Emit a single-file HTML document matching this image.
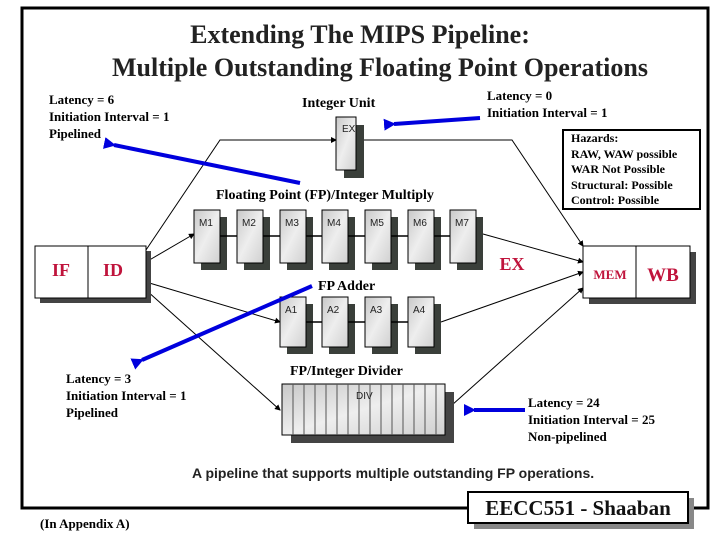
<!DOCTYPE html>
<html><head><style>
body{margin:0;background:#fff;}
svg{display:block;}
.t{font-family:"Liberation Serif",serif;font-weight:bold;}
.s{font-family:"Liberation Sans",sans-serif;}
</style></head><body>
<svg width="720" height="540" viewBox="0 0 720 540" xmlns="http://www.w3.org/2000/svg">
<defs>
<linearGradient id="g" x1="0" y1="0" x2="1" y2="1">
<stop offset="0" stop-color="#c8c8c8"/><stop offset="0.5" stop-color="#eeeeee"/><stop offset="1" stop-color="#d0d0d0"/></linearGradient>
<marker id="a" markerWidth="6" markerHeight="6" refX="5" refY="3" orient="auto"><path d="M0,0L6,3L0,6z" fill="#000"/></marker>
<marker id="b" markerWidth="3" markerHeight="3" refX="0.5" refY="1.5" orient="auto"><path d="M3,0L0,1.5L3,3z" fill="#0000dd"/></marker>
</defs>
<path d="M468,508 H708 V8 H22 V508 H468" fill="none" stroke="#000" stroke-width="3"/>
<text x="360" y="43" text-anchor="middle" class="t" font-size="26" fill="#222">Extending The MIPS Pipeline:</text>
<text x="380" y="76" text-anchor="middle" class="t" font-size="26" fill="#222">Multiple Outstanding Floating Point Operations</text>

<g class="t" font-size="13" fill="#000">
<text x="49" y="104">Latency = 6</text>
<text x="49" y="121">Initiation Interval = 1</text>
<text x="49" y="138">Pipelined</text>
<text x="302" y="107" font-size="14">Integer Unit</text>
<text x="487" y="100">Latency = 0</text>
<text x="487" y="117">Initiation Interval = 1</text>
<text x="216" y="199" font-size="14">Floating Point (FP)/Integer Multiply</text>
<text x="318" y="290" font-size="14">FP Adder</text>
<text x="290" y="375" font-size="14">FP/Integer Divider</text>
<text x="66" y="383">Latency = 3</text>
<text x="66" y="400">Initiation Interval = 1</text>
<text x="66" y="417">Pipelined</text>
<text x="528" y="407">Latency = 24</text>
<text x="528" y="424">Initiation Interval = 25</text>
<text x="528" y="441">Non-pipelined</text>
<text x="40" y="528">(In  Appendix A)</text>
</g>
<text x="192" y="478" class="s" font-weight="bold" font-size="14" fill="#222">A pipeline that supports multiple outstanding FP operations.</text>

<rect x="563" y="130" width="137" height="79" fill="#fff" stroke="#000" stroke-width="2"/>
<g class="t" font-size="12"><text x="571" y="142">Hazards:</text><text x="571" y="158">RAW, WAW possible</text><text x="571" y="173">WAR  Not Possible</text><text x="571" y="189">Structural:  Possible</text><text x="571" y="204">Control:  Possible</text></g>

<g stroke="#000" stroke-width="1" fill="none">
<polyline points="146,250 220,140 336,140" marker-end="url(#a)"/>
<polyline points="356,140 512,140 583,246" marker-end="url(#a)"/>
<line x1="146" y1="262" x2="194" y2="234" marker-end="url(#a)"/>
<line x1="146" y1="282" x2="280" y2="322" marker-end="url(#a)"/>
<line x1="146" y1="290" x2="280" y2="410" marker-end="url(#a)"/>
<line x1="483" y1="234" x2="583" y2="262" marker-end="url(#a)"/>
<line x1="441" y1="322" x2="583" y2="272" marker-end="url(#a)"/>
<line x1="452" y1="405" x2="583" y2="288" marker-end="url(#a)"/>
</g>

<rect x="40" y="251" width="111" height="52" fill="#444"/>
<rect x="35" y="246" width="111" height="52" fill="#fff" stroke="#000"/>
<line x1="88" y1="246" x2="88" y2="298" stroke="#000"/>
<text x="61" y="276" class="t" font-size="18" fill="#c0143c" text-anchor="middle">IF</text>
<text x="113" y="276" class="t" font-size="18" fill="#c0143c" text-anchor="middle">ID</text>
<rect x="589" y="252" width="107" height="52" fill="#444"/>
<rect x="583" y="246" width="107" height="52" fill="#fff" stroke="#000"/>
<line x1="636" y1="246" x2="636" y2="298" stroke="#000"/>
<text x="610" y="279" class="t" font-size="13" fill="#c0143c" text-anchor="middle">MEM</text>
<text x="663" y="281" class="t" font-size="19" fill="#c0143c" text-anchor="middle">WB</text>
<text x="512" y="270" class="t" font-size="18" fill="#c0143c" text-anchor="middle">EX</text>

<g font-family="Liberation Sans,sans-serif" font-size="10" fill="#222">
<rect x="344" y="125" width="20" height="53" fill="#3a3f3a"/><rect x="336" y="117" width="20" height="53" fill="url(#g)" stroke="#000"/><text x="342" y="132">EX</text>
<g transform="translate(194,210)"><rect x="7" y="7" width="26" height="53" fill="#3a3f3a"/><rect width="26" height="53" fill="url(#g)" stroke="#000"/><text x="5" y="16">M1</text></g>
<g transform="translate(237,210)"><rect x="7" y="7" width="26" height="53" fill="#3a3f3a"/><rect width="26" height="53" fill="url(#g)" stroke="#000"/><text x="5" y="16">M2</text></g>
<g transform="translate(280,210)"><rect x="7" y="7" width="26" height="53" fill="#3a3f3a"/><rect width="26" height="53" fill="url(#g)" stroke="#000"/><text x="5" y="16">M3</text></g>
<g transform="translate(322,210)"><rect x="7" y="7" width="26" height="53" fill="#3a3f3a"/><rect width="26" height="53" fill="url(#g)" stroke="#000"/><text x="5" y="16">M4</text></g>
<g transform="translate(365,210)"><rect x="7" y="7" width="26" height="53" fill="#3a3f3a"/><rect width="26" height="53" fill="url(#g)" stroke="#000"/><text x="5" y="16">M5</text></g>
<g transform="translate(408,210)"><rect x="7" y="7" width="26" height="53" fill="#3a3f3a"/><rect width="26" height="53" fill="url(#g)" stroke="#000"/><text x="5" y="16">M6</text></g>
<g transform="translate(450,210)"><rect x="7" y="7" width="26" height="53" fill="#3a3f3a"/><rect width="26" height="53" fill="url(#g)" stroke="#000"/><text x="5" y="16">M7</text></g>
<g transform="translate(280,297)"><rect x="7" y="7" width="26" height="50" fill="#3a3f3a"/><rect width="26" height="50" fill="url(#g)" stroke="#000"/><text x="5" y="16">A1</text></g>
<g transform="translate(322,297)"><rect x="7" y="7" width="26" height="50" fill="#3a3f3a"/><rect width="26" height="50" fill="url(#g)" stroke="#000"/><text x="5" y="16">A2</text></g>
<g transform="translate(365,297)"><rect x="7" y="7" width="26" height="50" fill="#3a3f3a"/><rect width="26" height="50" fill="url(#g)" stroke="#000"/><text x="5" y="16">A3</text></g>
<g transform="translate(408,297)"><rect x="7" y="7" width="26" height="50" fill="#3a3f3a"/><rect width="26" height="50" fill="url(#g)" stroke="#000"/><text x="5" y="16">A4</text></g>
</g>
<g stroke="#000" stroke-width="1.5">
<line x1="220" y1="236" x2="237" y2="236"/><line x1="263" y1="236" x2="280" y2="236"/><line x1="306" y1="236" x2="322" y2="236"/><line x1="348" y1="236" x2="365" y2="236"/><line x1="391" y1="236" x2="408" y2="236"/><line x1="434" y1="236" x2="450" y2="236"/>
<line x1="306" y1="322" x2="322" y2="322"/><line x1="348" y1="322" x2="365" y2="322"/><line x1="391" y1="322" x2="408" y2="322"/>
</g>
<rect x="291" y="392" width="163" height="51" fill="#444"/>
<rect x="282" y="384" width="163" height="51" fill="url(#g)" stroke="#000"/>
<g stroke="#555" stroke-width="1">
<line x1="293" y1="384" x2="293" y2="435"/><line x1="304" y1="384" x2="304" y2="435"/><line x1="315" y1="384" x2="315" y2="435"/><line x1="326" y1="384" x2="326" y2="435"/><line x1="337" y1="384" x2="337" y2="435"/><line x1="348" y1="384" x2="348" y2="435"/><line x1="359" y1="384" x2="359" y2="435"/><line x1="370" y1="384" x2="370" y2="435"/><line x1="381" y1="384" x2="381" y2="435"/><line x1="392" y1="384" x2="392" y2="435"/><line x1="403" y1="384" x2="403" y2="435"/><line x1="414" y1="384" x2="414" y2="435"/><line x1="425" y1="384" x2="425" y2="435"/><line x1="436" y1="384" x2="436" y2="435"/>
</g>
<text x="356" y="399" font-family="Liberation Sans,sans-serif" font-size="10" fill="#222">DIV</text>

<g stroke="#0000dd" stroke-width="4" fill="none">
<line x1="300" y1="183" x2="114" y2="145" marker-end="url(#b)"/>
<line x1="480" y1="118" x2="394" y2="124" marker-end="url(#b)"/>
<line x1="312" y1="286" x2="142" y2="360" marker-end="url(#b)"/>
<line x1="525" y1="410" x2="474" y2="410" marker-end="url(#b)"/>
</g>

<rect x="474" y="498" width="220" height="31" fill="#888"/>
<rect x="468" y="492" width="220" height="31" fill="#fff" stroke="#000" stroke-width="2"/>
<text x="578" y="515" text-anchor="middle" class="t" font-size="21" fill="#111">EECC551 - Shaaban</text>
</svg>
</body></html>
